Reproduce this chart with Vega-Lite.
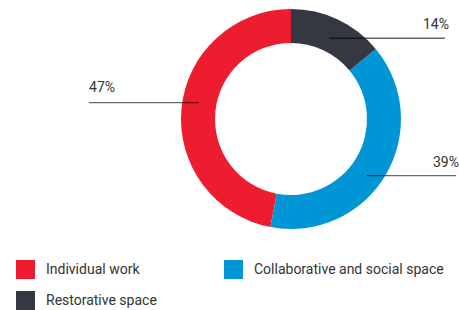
{
  "$schema": "https://vega.github.io/schema/vega-lite/v6.json",
  "width": 443,
  "height": 250,
  "padding": {"left": 16, "top": 0, "right": 0, "bottom": 0},
  "background": "white",
  "config": {
    "view": {"stroke": null},
    "font": "Roboto",
    "legend": {
      "orient": "bottom",
      "columns": 2,
      "columnPadding": 67,
      "rowPadding": 12,
      "offset": 10,
      "padding": 0,
      "symbolType": "square",
      "symbolSize": 361,
      "symbolStrokeWidth": 0,
      "symbolOpacity": 1,
      "labelFont": "Roboto",
      "labelFontSize": 14,
      "labelColor": "#333333",
      "labelOffset": 11,
      "labelLimit": 0,
      "title": null
    }
  },
  "datasets": {
    "slices": [
      {"category": "Individual work", "value": 47},
      {"category": "Collaborative and social space", "value": 39},
      {"category": "Restorative space", "value": 14}
    ],
    "callouts": [
      {"label": "14%", "x1": 34.5, "x2": 140, "y": 73.4, "tx": 120, "ty": 81.8},
      {"label": "39%", "x1": 69, "x2": 150, "y": -51.5, "tx": 129, "ty": -43.6},
      {"label": "47%", "x1": -183.6, "x2": -83.6, "y": 14.8, "tx": -183.6, "ty": 24.5}
    ]
  },
  "layer": [
    {
      "data": {"name": "slices"},
      "mark": {"type": "arc", "outerRadius": 110, "innerRadius": 76},
      "encoding": {
        "x": {"datum": 0, "type": "quantitative", "scale": {"domain": [-250, 152.73], "nice": false, "zero": false}, "axis": null},
        "y": {"datum": 0, "type": "quantitative", "scale": {"domain": [-119.09, 108.18], "nice": false, "zero": false}, "axis": null},
        "theta": {"field": "value", "type": "quantitative", "stack": true},
        "order": {"field": "value", "type": "quantitative", "sort": "ascending"},
        "color": {
          "field": "category",
          "type": "nominal",
          "scale": {
            "domain": ["Individual work", "Collaborative and social space", "Restorative space"],
            "range": ["#ED1C2E", "#0096D6", "#333842"]
          },
          "sort": null
        }
      }
    },
    {
      "data": {"name": "callouts"},
      "mark": {"type": "rule", "stroke": "#000000", "strokeOpacity": 0.6, "strokeWidth": 1.3},
      "encoding": {
        "x": {"field": "x1", "type": "quantitative"},
        "x2": {"field": "x2"},
        "y": {"field": "y", "type": "quantitative"}
      }
    },
    {
      "data": {"name": "callouts"},
      "mark": {"type": "text", "align": "left", "baseline": "alphabetic", "fontSize": 14, "color": "#333333", "font": "Roboto"},
      "encoding": {
        "x": {"field": "tx", "type": "quantitative"},
        "y": {"field": "ty", "type": "quantitative"},
        "text": {"field": "label"}
      }
    }
  ]
}
